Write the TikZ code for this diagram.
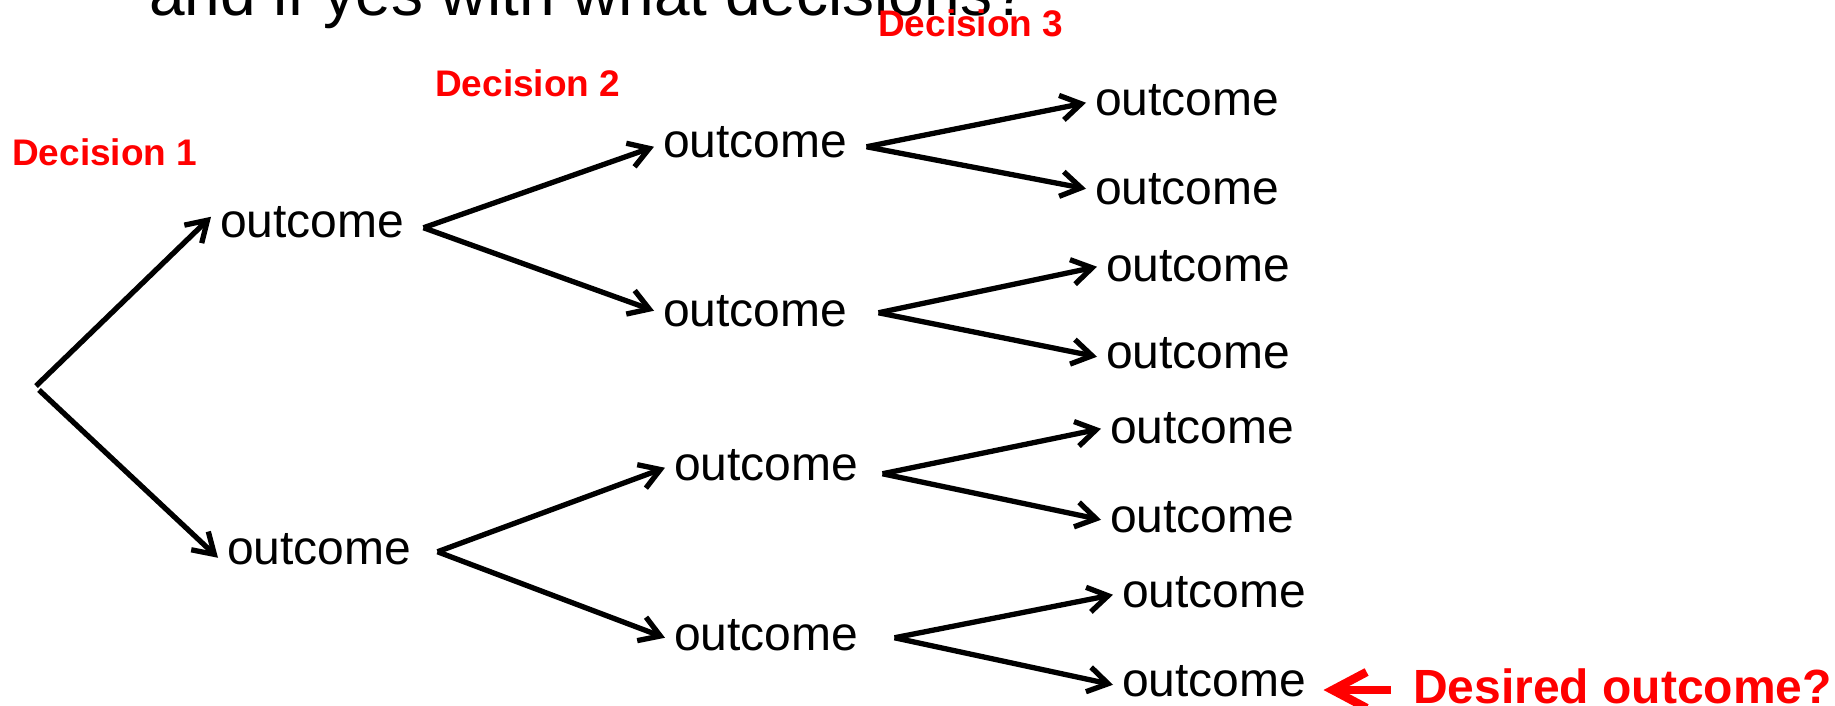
\documentclass[tikz,border=0pt]{standalone}
\usepackage{fontspec}
\setmainfont{Liberation Sans}
\usetikzlibrary{arrows.meta}

\definecolor{decred}{RGB}{255,0,0}

\tikzset{
  outc/.style={anchor=base west, inner xsep=9pt, inner ysep=0pt,
               text height=24.5pt, text depth=0pt,
               font=\fontsize{48}{52}\selectfont},
  declabel/.style={anchor=base west, inner sep=0pt, text=decred,
                   font=\bfseries\fontsize{37}{40}\selectfont},
  branch/.style={line width=5.3pt,
                 -{Straight Barb[length=20pt,width=25pt]}},
  redbranch/.style={draw=decred, line width=8.5pt,
                    -{Straight Barb[length=34pt,width=36pt]}},
}

\begin{document}
\begin{tikzpicture}[x=1pt,y=-1pt]
  \useasboundingbox (0,0) rectangle (1835,705);

  % heading line, partly above the page
  \node[anchor=base west, inner sep=0pt, font=\fontsize{64}{68}\selectfont]
    (head) at (149,15) {and if yes with what decisions?};

  % decision labels
  \node[declabel] (d1) at (12,165) {Decision 1};
  \node[declabel] (d2) at (435,96) {Decision 2};
  \node[declabel] (d3) at (878,36) {Decision 3};

  % starting point of the tree
  \coordinate (root) at (37,388);

  % first level
  \node[outc] (o1a) at (211,237) {outcome};
  \node[outc] (o1b) at (218,564) {outcome};

  % second level
  \node[outc] (o2a) at (654,157) {outcome};
  \node[outc] (o2b) at (654,326) {outcome};
  \node[outc] (o2c) at (665,480) {outcome};
  \node[outc] (o2d) at (665,650) {outcome};

  % third level
  \node[outc] (o3a) at (1086,115) {outcome};
  \node[outc] (o3b) at (1086,204) {outcome};
  \node[outc] (o3c) at (1097,281) {outcome};
  \node[outc] (o3d) at (1097,368) {outcome};
  \node[outc] (o3e) at (1101,443) {outcome};
  \node[outc] (o3f) at (1101,532) {outcome};
  \node[outc] (o3g) at (1113,607) {outcome};
  \node[outc] (o3h) at (1113,696) {outcome};

  % highlighted leaf
  \node[anchor=base west, inner sep=0pt, text=decred,
        font=\bfseries\fontsize{48}{52}\selectfont]
    (want) at (1413,703) {Desired outcome?};

  % branches
  \draw[branch] ([shift={(-1pt,2pt)}]root) -- ([yshift=8pt]o1a.west);
  \draw[branch] ([shift={(2pt,-2pt)}]root) -- ([yshift=-6pt]o1b.west);

  \draw[branch] ([shift={(10pt,-3pt)}]o1a.east) -- ([yshift=-2pt]o2a.west);
  \draw[branch] ([shift={(10pt,-3pt)}]o1a.east) -- ([yshift=3pt]o2b.west);
  \draw[branch] ([shift={(17pt,0pt)}]o1b.east) -- (o2c.west);
  \draw[branch] ([shift={(17pt,0pt)}]o1b.east) -- (o2d.west);

  \draw[branch] ([shift={(10pt,-2pt)}]o2a.east) -- (o3a.west);
  \draw[branch] ([shift={(10pt,-2pt)}]o2a.east) -- ([yshift=3pt]o3b.west);
  \draw[branch] ([shift={(22pt,1pt)}]o2b.east) -- ([yshift=2pt]o3c.west);
  \draw[branch] ([shift={(22pt,1pt)}]o2b.east) -- ([yshift=-1pt]o3d.west);
  \draw[branch] ([shift={(15pt,-6pt)}]o2c.east) -- ([yshift=2pt]o3e.west);
  \draw[branch] ([shift={(15pt,-6pt)}]o2c.east) -- (o3f.west);
  \draw[branch] ([shift={(27pt,0pt)}]o2d.east) -- (o3g.west);
  \draw[branch] ([shift={(27pt,0pt)}]o2d.east) -- ([yshift=-1pt]o3h.west);

  % pointer to the wanted leaf
  \draw[redbranch] ([shift={(-22pt,13pt)}]want.base west) -- ([shift={(8pt,6pt)}]o3h.base east);
\end{tikzpicture}
\end{document}
